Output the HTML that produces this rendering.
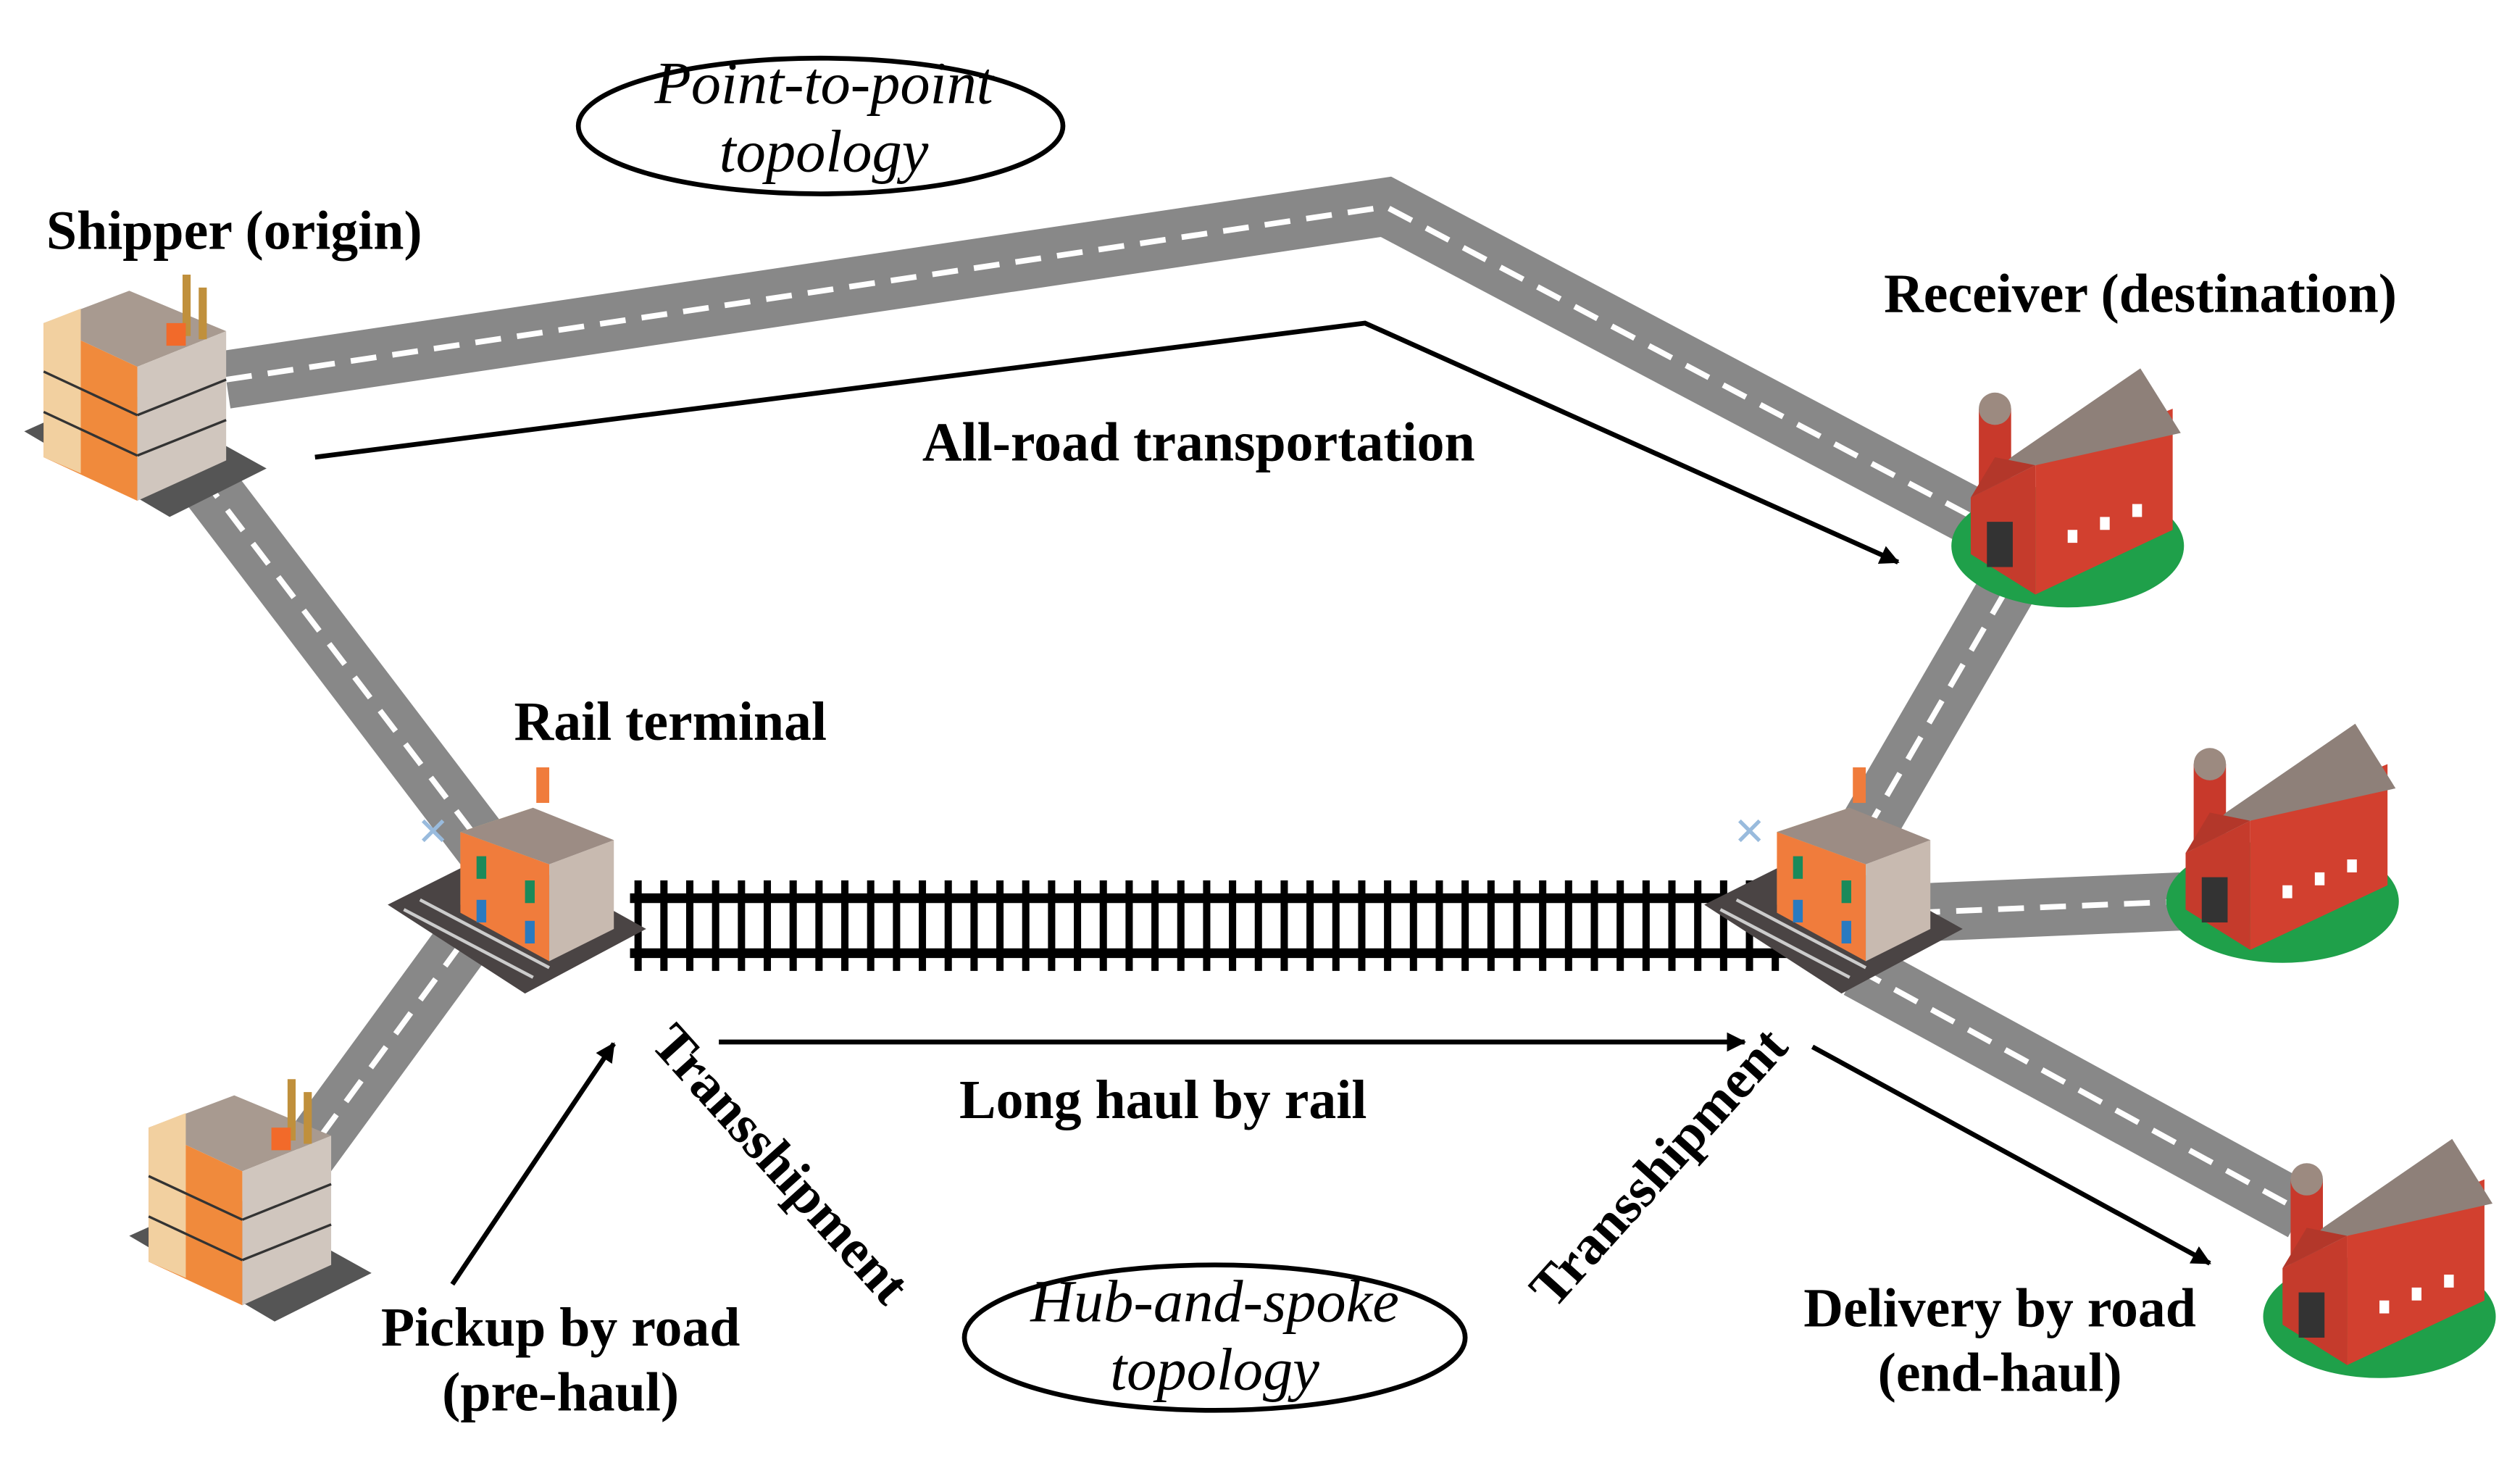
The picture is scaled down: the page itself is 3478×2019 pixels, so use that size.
<!DOCTYPE html>
<html><head><meta charset="utf-8"><style>
html,body{margin:0;padding:0;background:#fff}
svg{display:block}
text{font-family:"Liberation Serif",serif;fill:#000}
.b{font-weight:bold;font-size:34px}
.i{font-style:italic;font-size:37px}
</style></head><body>
<svg width="3478" height="2019" viewBox="0 0 1560 905.6" xmlns="http://www.w3.org/2000/svg">
<defs>
<marker id="ah" markerWidth="12" markerHeight="12" refX="11" refY="6" orient="auto" markerUnits="userSpaceOnUse">
<path d="M0,0 L12,6 L0,12 z" fill="#000"/></marker>
<g id="factory">
<polygon points="0,92 60,65 150,115 90,145" fill="#555"/>
<polygon points="12,25 65,5 125,30 70,52" fill="#a89a90"/>
<polygon points="12,25 70,52 70,135 12,108" fill="#f08a3c"/>
<polygon points="12,25 35,16 35,118 12,108" fill="#f2d0a0"/>
<polygon points="70,52 125,30 125,110 70,135" fill="#d0c6be"/>
<rect x="98" y="-5" width="5" height="38" fill="#c0903c"/>
<rect x="108" y="3" width="5" height="32" fill="#c0903c"/>
<rect x="88" y="25" width="12" height="14" fill="#f26a2a"/>
<g stroke="#333" stroke-width="1.5">
<line x1="12" y1="55" x2="70" y2="82"/><line x1="12" y1="80" x2="70" y2="107"/>
<line x1="70" y1="82" x2="125" y2="60"/><line x1="70" y1="107" x2="125" y2="85"/></g>
</g>
<g id="term">
<polygon points="0,85 70,50 160,100 85,140" fill="#4a4444"/>
<line x1="10" y1="88" x2="90" y2="130" stroke="#ccc" stroke-width="2"/>
<line x1="20" y1="82" x2="100" y2="124" stroke="#ccc" stroke-width="2"/>
<polygon points="45,40 90,25 90,100 45,85" fill="#f4d37f"/>
<polygon points="45,40 100,60 100,120 45,90" fill="#f07c3c"/>
<polygon points="100,60 140,45 140,100 100,120" fill="#c8bab0"/>
<polygon points="45,40 90,25 140,45 100,60" fill="#9c8c84"/>
<rect x="92" y="0" width="8" height="22" fill="#f07c3c"/>
<rect x="55" y="55" width="6" height="14" fill="#1a8a5a"/><rect x="85" y="70" width="6" height="14" fill="#1a8a5a"/>
<rect x="55" y="82" width="6" height="14" fill="#2a7ac0"/><rect x="85" y="95" width="6" height="14" fill="#2a7ac0"/>
<text x="18" y="48" font-size="24" style="fill:#9bd">✕</text>
</g>
<g id="barn">
<ellipse cx="75" cy="110" rx="72" ry="38" fill="#1fa04a"/>
<rect x="20" y="25" width="20" height="70" fill="#c8392b"/>
<ellipse cx="30" cy="25" rx="10" ry="10" fill="#9c8a80"/>
<polygon points="15,80 55,60 55,140 15,115" fill="#c53b2c"/>
<polygon points="55,60 140,25 140,100 55,140" fill="#d2402f"/>
<polygon points="15,80 40,55 120,0 145,40 55,60" fill="#8e8079"/>
<polygon points="15,80 30,55 55,60" fill="#b3372a"/>
<rect x="25" y="95" width="16" height="28" fill="#333"/>
<rect x="75" y="100" width="6" height="8" fill="#fff"/><rect x="95" y="92" width="6" height="8" fill="#fff"/><rect x="115" y="84" width="6" height="8" fill="#fff"/>
</g>
</defs>

<g stroke="#888" stroke-width="36" fill="none" stroke-linejoin="miter">
<polyline points="140,235 858,128 1225,322"/>
<line x1="125" y1="295" x2="300" y2="525"/>
<line x1="285" y1="585" x2="190" y2="715"/>
<line x1="1155" y1="515" x2="1245" y2="360"/>
<line x1="1185" y1="565" x2="1350" y2="558"/>
<line x1="1150" y1="600" x2="1425" y2="750"/>
</g>
<g stroke="#fff" stroke-width="3.5" fill="none" stroke-dasharray="16,10">
<polyline points="140,235 858,128 1225,322"/>
<line x1="125" y1="295" x2="300" y2="525"/>
<line x1="285" y1="585" x2="190" y2="715"/>
<line x1="1155" y1="515" x2="1245" y2="360"/>
<line x1="1185" y1="565" x2="1350" y2="558"/>
<line x1="1150" y1="600" x2="1425" y2="750"/>
</g>

<g stroke="#000">
<line x1="390" y1="556" x2="1112" y2="556" stroke-width="6"/>
<line x1="390" y1="590" x2="1112" y2="590" stroke-width="6"/>
</g>
<g stroke="#000" stroke-width="4.5">
<path d="M395,545V601M411,545V601M427,545V601M443,545V601M459,545V601M475,545V601M491,545V601M507,545V601M523,545V601M539,545V601M555,545V601M571,545V601M587,545V601M603,545V601M619,545V601M635,545V601M651,545V601M667,545V601M683,545V601M699,545V601M715,545V601M731,545V601M747,545V601M763,545V601M779,545V601M795,545V601M811,545V601M827,545V601M843,545V601M859,545V601M875,545V601M891,545V601M907,545V601M923,545V601M939,545V601M955,545V601M971,545V601M987,545V601M1003,545V601M1019,545V601M1035,545V601M1051,545V601M1067,545V601M1083,545V601M1099,545V601"/>
</g>

<use href="#factory" x="15" y="175"/>
<use href="#factory" x="80" y="673"/>
<use href="#term" x="240" y="475"/>
<use href="#term" x="1055" y="475"/>
<use href="#barn" x="1205" y="228"/>
<use href="#barn" x="1338" y="448"/>
<use href="#barn" x="1398" y="705"/>

<ellipse cx="508" cy="78" rx="150" ry="42" fill="none" stroke="#000" stroke-width="3"/>
<ellipse cx="752" cy="828" rx="155" ry="45" fill="none" stroke="#000" stroke-width="3"/>
<text class="i" x="510" y="64" text-anchor="middle">Point-to-point</text>
<text class="i" x="510" y="106" text-anchor="middle">topology</text>
<text class="i" x="752" y="818" text-anchor="middle">Hub-and-spoke</text>
<text class="i" x="752" y="860" text-anchor="middle">topology</text>

<g stroke="#000" stroke-width="3" fill="none">
<polyline points="195,283 845,200 1175,348" marker-end="url(#ah)"/>
<line x1="445" y1="645" x2="1080" y2="645" marker-end="url(#ah)"/>
<line x1="280" y1="795" x2="380" y2="646" marker-end="url(#ah)"/>
<line x1="1122" y1="648" x2="1368" y2="782" marker-end="url(#ah)"/>
</g>

<text class="b" x="145" y="154" text-anchor="middle">Shipper (origin)</text>
<text class="b" x="1325" y="193" text-anchor="middle">Receiver (destination)</text>
<text class="b" x="742" y="285" text-anchor="middle">All-road transportation</text>
<text class="b" x="415" y="458" text-anchor="middle">Rail terminal</text>
<text class="b" x="720" y="692" text-anchor="middle">Long haul by rail</text>
<text class="b" x="347" y="833" text-anchor="middle">Pickup by road</text>
<text class="b" x="347" y="873" text-anchor="middle">(pre-haul)</text>
<text class="b" x="1238" y="821" text-anchor="middle">Delivery by road</text>
<text class="b" x="1238" y="861" text-anchor="middle">(end-haul)</text>
<text class="b" x="0" y="0" text-anchor="middle" transform="translate(475,728) rotate(48)">Transshipment</text>
<text class="b" x="0" y="0" text-anchor="middle" transform="translate(1035,730) rotate(-48)">Transshipment</text>
</svg>
</body></html>
